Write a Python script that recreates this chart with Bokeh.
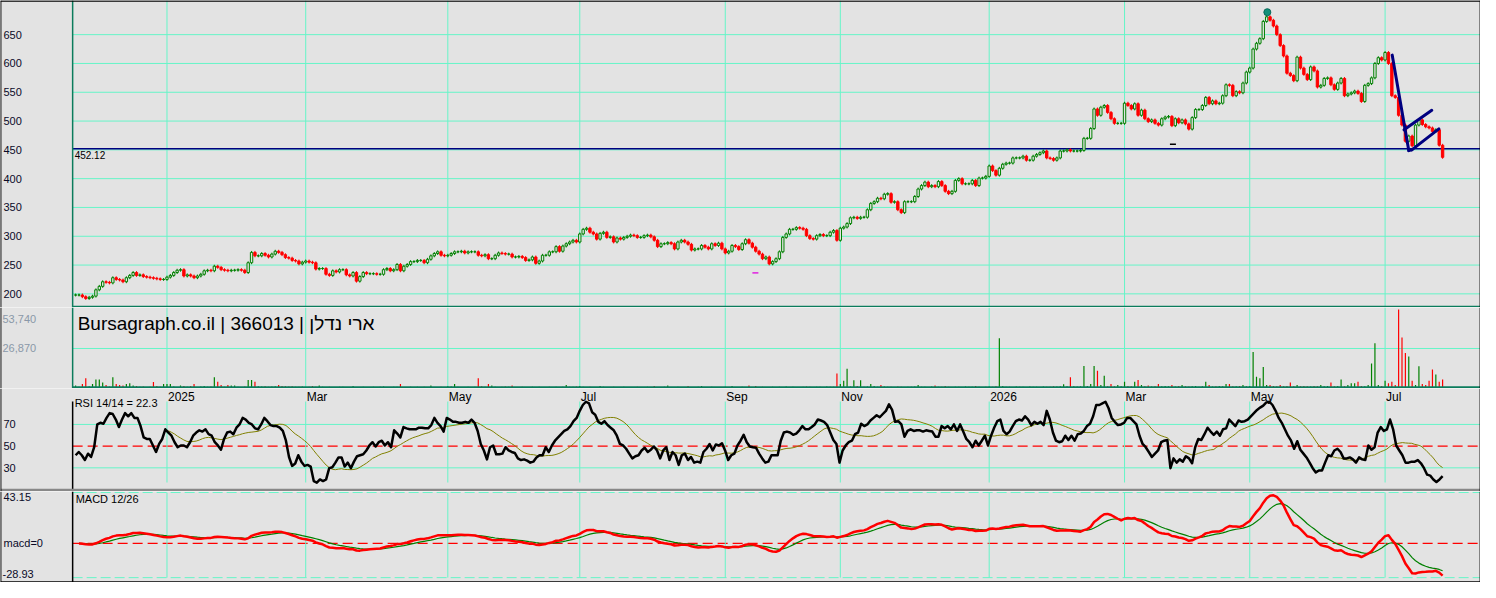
import numpy as np
import pandas as pd
from bokeh.plotting import figure
from bokeh.layouts import column
from bokeh.models import Range1d
from bokeh.core.properties import value
from bokeh.embed import file_html
from bokeh.resources import INLINE

# ---------------------------------------------------------------- data
TITLE = "Bursagraph.co.il | 366013 | ארי נדלן"

CLOSE_NOV_APR = [
    198, 198, 195, 192, 194, 196, 207, 213, 221, 220,
    219, 228, 225, 224, 221, 228, 232, 237, 232, 233,
    230, 229, 228, 227, 226, 225, 225, 229, 232, 237,
    241, 242, 231, 233, 231, 228, 231, 234, 240, 241,
    240, 248, 246, 242, 241, 240, 241, 241, 242, 241,
    237, 254, 272, 266, 266, 270, 267, 264, 269, 274,
    272, 268, 263, 262, 258, 257, 252, 255, 257, 255,
    254, 243, 244, 244, 234, 232, 240, 238, 242,
    242, 233, 231, 237, 222, 230, 237, 235, 235, 235,
    234, 234, 242, 244, 240, 242, 251, 240, 248, 251,
    256, 256, 258, 258, 254, 260, 266, 270, 273, 267,
    266, 267]
CLOSE_APR_SEP = [
    270, 273, 273, 274, 271, 273, 273, 273, 267,
    266, 268, 261, 261, 267, 271, 270, 269, 269, 264,
    264, 265, 263, 258, 259, 264, 253, 257, 267, 267,
    273, 273, 282, 274, 283, 287, 290, 293, 290, 304,
    312, 314, 307, 304, 295, 305, 307, 298, 299,
    290, 297, 295, 298, 300, 302, 301, 298, 298, 301,
    302, 299, 293, 282, 287, 287, 289, 287, 278, 290,
    293, 290, 286, 276, 278, 278, 284, 281, 278, 287,
    284, 288, 278, 271, 274, 284, 282, 277, 287, 294,
    288, 281, 274, 269, 261, 264, 252, 256, 261, 273,
    298, 304, 312, 312, 315, 314, 312, 301, 296]
CLOSE_OCT_FEB = [
    295, 301, 303, 301, 301, 307, 310, 293, 314, 316,
    322, 332, 333, 331, 333, 333, 346, 357, 360, 366,
    365, 373, 374, 359, 360, 346, 341, 360, 360, 360,
    369, 382, 388, 394, 386, 388, 386, 395, 388, 378,
    374, 378, 397, 400, 391, 391, 391, 397, 388,
    401, 401, 404, 422, 414, 406, 418, 425, 427, 427,
    436, 436, 436, 439, 432, 432, 439, 442, 445, 448,
    436, 435, 432, 436, 448, 448, 450, 448, 448, 448,
    449, 470, 470, 487, 521, 510, 524, 527, 515]
CLOSE_MAR_MAY = [
    504, 496, 496, 496, 531, 527, 521, 530, 510, 519,
    504, 499, 502, 496, 493, 504, 507, 508, 492, 504,
    497, 502, 495, 486, 506, 520, 520, 527, 541, 530,
    535, 530, 531, 544, 563, 562, 544, 551, 549, 566,
    585, 592, 625, 635, 643, 673, 681]
CLOSE_MAY_JUL = [
    675, 665, 650, 631, 613, 583, 579, 570, 611, 592,
    581, 572, 594, 587, 559, 562, 574, 575, 563,
    555, 566, 574, 544, 547, 549, 552, 548, 534,
    562, 565, 575, 600, 610, 606, 619, 600, 544, 541,
    510, 493, 465, 474, 457, 493, 502, 494, 490, 488,
    482, 485, 458, 437]

VOLUME = [
    1350, 600, 2500, 6300, 900, 2500, 5600, 5600, 3400, 1800, 700, 7000, 2500, 1800, 1350, 2500, 2900, 1350, 1100, 500,
    700, 400, 600, 3800, 1100, 500, 2500, 2500, 2500, 700, 400, 1350, 1100, 500, 1100, 2500, 400, 700, 1100, 500,
    700, 7000, 4000, 1800, 600, 1800, 1350, 1350, 500, 400, 700, 5200, 5200, 4000, 900, 700, 800, 600, 700, 900,
    1800, 1100, 800, 700, 900, 600, 500, 700, 400, 600, 1100, 500, 1350, 600, 400, 500, 300, 400, 600, 500,
    400, 300, 1100, 400, 300, 500, 400, 300, 600, 400, 500, 700, 300, 400, 500, 600, 2500, 400, 300, 500,
    400, 600, 300, 500, 400, 1350, 400, 300, 600, 400, 900, 700, 2500, 500, 400, 300, 600, 400, 500, 6300,
    800, 600, 2500, 1350, 500, 400, 600, 700, 500, 1350, 400, 300, 500, 400, 300, 600, 400, 500, 300, 400,
    500, 400, 600, 400, 500, 1800, 600, 500, 700, 1100, 600, 400, 500, 300, 400, 1100, 500, 400, 300, 500,
    400, 300, 500, 400, 300, 400, 500, 300, 400, 500, 400, 1100, 300, 400, 500, 1350, 400, 300, 500, 400,
    300, 1100, 400, 300, 500, 1100, 400, 300, 500, 400, 300, 400, 500, 300, 1100, 400, 300, 500, 400, 1350,
    400, 1100, 300, 500, 400, 300, 600, 400, 500, 300, 700, 400, 500, 300, 400, 600, 700, 500, 400, 600,
    500, 400, 700, 600, 500, 9700, 2500, 4700, 12900, 700, 5000, 1100, 5000, 600, 700, 2500, 1100, 600, 1800, 700,
    500, 600, 400, 700, 500, 400, 600, 500, 700, 1800, 500, 600, 400, 700, 1350, 500, 600, 1100, 500, 400,
    600, 500, 400, 700, 500, 600, 1100, 500, 400, 600, 700, 500, 900, 33900, 1100, 500, 600, 400, 700, 500,
    600, 400, 700, 500, 600, 400, 700, 500, 600, 800, 700, 900, 2250, 900, 7000, 800, 700, 900, 14900, 1100,
    2500, 14900, 11500, 1800, 8100, 900, 2500, 800, 1800, 900, 4000, 1100, 800, 4000, 5200, 1800, 900, 1350, 700, 900,
    2500, 900, 1100, 800, 1800, 700, 1100, 1800, 900, 700, 800, 1100, 600, 900, 4000, 1800, 700, 900, 1100, 800,
    2500, 2500, 900, 800, 1100, 1800, 900, 1100, 24400, 7400, 6300, 14200, 1800, 1800, 1100, 900, 1800, 800, 1100, 3400,
    900, 1800, 800, 1100, 900, 700, 1100, 900, 1800, 800, 1100, 3400, 900, 1100, 5600, 900, 1800, 2900, 2900, 4000,
    1100, 900, 1800, 16500, 30500, 1800, 1100, 4700, 2900, 4000, 1800, 53740, 34500, 23700, 21400, 4700, 1800, 14700, 2500, 1800,
    4700, 12400, 9000, 4000, 5600]

RSI_NOV_SEP = [
    41.6, 44.6, 41.6, 37.2, 43, 40, 49, 70, 71.5, 70.6,
    76, 80.4, 79.6, 74.5, 67.6, 74.5, 80.4, 77.5, 80.4, 76,
    76, 68.5, 58, 56.6, 56.6, 50.6, 44.6, 52, 56.6, 65.5,
    62.5, 59.6, 53.6, 49, 50.6, 50.6, 49, 53.6, 59.6, 62.5,
    64.6, 63.4, 65.5, 61, 59.6, 53.6, 50.6, 46.7, 56.6, 62.5,
    63.4, 61, 67, 70, 76, 74.5, 71.5, 70, 66.4, 65.5,
    70, 76, 73, 69.4, 68.5, 68.5, 67, 64, 55, 40,
    31.8, 34, 41.6, 35.7, 31.8, 32.7, 31.2, 17.8, 16.3, 19.3,
    17.8, 19.3, 29.7, 30.6, 34.8, 39.6, 39.6, 31.2, 34.8, 29.7,
    35.7, 40.7, 41.6, 42.5, 46, 50.6, 53.6, 49.7, 53.6, 55,
    50.6, 53.6, 49, 64.6, 61.6, 58, 67.6, 66.4, 65.5, 65.5,
    65.5, 67, 67, 66.4, 66.4, 69.4, 76, 71.5, 68.5, 63.4,
    76, 74.5, 72.4, 72.4, 71.5, 71.5, 72.4, 71.5, 74.5, 71.5,
    64, 52, 46, 37.8, 49, 50.6, 42.5, 42.5, 43.1, 49,
    46, 44.6, 43.7, 38.7, 37.2, 37.8, 36.6, 34.8, 35.7, 39.6,
    41.6, 41.6, 49, 44.6, 50.6, 55, 58, 61, 64, 65.5,
    68.5, 73, 76, 82.5, 87.9, 90.9, 89.4, 81.3, 79, 72.4,
    70.6, 73, 69.4, 67, 64.6, 59.6, 52, 50.6, 47.6, 43.1,
    38.7, 40.7, 41.6, 46, 48.5, 44.6, 46.7, 49.7, 46, 38.7,
    46, 49, 37.2, 44.6, 41.6, 32.7, 41.6, 43.1, 37.2, 40,
    34.8, 35.7, 34.8, 44.6, 47.6, 52, 46, 51.5, 50.6, 52.7,
    46, 37.2, 41.6, 43.1, 50.6, 55, 60.4, 53.6, 49.7, 49,
    48.5, 43.1, 38.7, 34.8, 35.7, 41.6]
RSI_OCT_JUL = [
    41.6, 41.6, 55, 62.5, 63.4, 62.5, 60.4, 61.6, 64.6, 68.5,
    65.5, 65.5, 67.6, 70, 74.5, 73.6, 72.4, 69.4, 62.5, 55.7,
    52, 34.8, 46, 50.6, 53.6, 55, 61, 62.5, 70.6, 68.5,
    70, 73.6, 76, 78.4, 76.6, 79.6, 82.5, 88.5, 83.4, 72.4,
    73, 70, 58.7, 64, 65.5, 64, 64.6, 64.6, 63.4, 64.6,
    64, 63.4, 58.7, 58.7, 68.5, 66.4, 68.5, 65.5, 70, 64,
    70, 63.4, 56.6, 53.6, 49, 55, 50.6, 55, 59.6, 50.6,
    59.6, 67, 73, 74.5, 64, 61, 63.4, 68.5, 73, 74.5,
    73.6, 77.5, 74.5, 69.4, 72.4, 70.6, 72.4, 69.4, 82.5, 74.5,
    62.5, 55, 53.6, 54.5, 59.6, 55.7, 59.6, 55, 61, 61.6,
    64, 68.5, 70.6, 77.5, 87.9, 87.9, 89.4, 90.9, 84.9, 76,
    72.4, 69.4, 70, 71.5, 76, 76, 73, 70, 59.6, 52,
    49, 44.6, 40, 43.1, 46, 53.6, 55, 55.7, 29.7, 38.7,
    34.8, 37.8, 35.7, 40.7, 38.7, 34.2, 49, 56.6, 55.7, 61,
    67, 63.4, 60.4, 63.4, 59.6, 65.5, 66.4, 74.5, 71.5, 68.5,
    73.6, 72.4, 73, 74.5, 77.5, 80.4, 83.4, 85.5, 87.3, 90.3,
    90.9, 87.9, 82.5, 76, 71.5, 65.5, 59.6, 55, 47.6, 54.5,
    46.7, 43.1, 39.6, 34.8, 29.7, 25.8, 27.6, 27.6, 34.8, 41.6,
    40.7, 46, 47.6, 44.6, 38.7, 38.7, 39.6, 37.8, 34.8, 39.6,
    37.8, 37.2, 50.6, 46.7, 49, 62.5, 67.6, 64, 65.5, 74.5,
    65.5, 50.6, 46, 41.6, 34.8, 34.8, 35.7, 35.7, 37.2, 34.2,
    29.7, 23.7, 22.8, 19.3, 16.9, 19.3, 22.3]

DATE_LABELS = ["2025", "Mar", "May", "Jul", "Sep", "Nov", "2026", "Mar", "May", "Jul"]
DATE_BARS = [27, 68, 110, 149, 192, 226, 270, 310, 347, 387]
PRICE_TICKS = [200, 250, 300, 350, 400, 450, 500, 550, 600, 650]
REF_LEVEL = 452.12
VOL_TICKS = [26870, 53740]
RSI_GRID = [30, 70]
RSI_MID = 50
MACD_MAX = 43.15
MACD_MIN = -28.93
PEAK_BAR, PEAK_PRICE = 352.2, 689.0
MARK_BARS = [200.9, 324.3]
MARK_PRICES = [236.4, 459.7]
FLAG_X0 = [389.1, 394.0, 394.9, 392.6]
FLAG_Y0 = [614.5, 448.7, 449.9, 484.8]
FLAG_X1 = [394.0, 394.9, 402.9, 400.8]
FLAG_Y1 = [448.7, 449.9, 486.5, 518.6]

# ---------------------------------------------------------------- layout / style
W = 1480
H_PRICE, H_VOL, H_RSI, H_MACD = 307, 81, 103, 91
X_START, X_END = -22.2, 415.2
AXIS_X = -0.88
PRICE_RANGE = (176.3, 709.3)
VOL_RANGE = (-672, 55083)
RSI_RANGE = (8.2, 103.1)
MACD_RANGE = (-33.03, 43.97)

BG = "#e3e3e3"
GRID = "#66f5c8"
AXG = "#0b7c5c"
UP = "#008000"
DOWN = "#ff0000"
NAVY = "#000080"
FONT = "Liberation Sans"
LBL = "#0a0a28"

# ---------------------------------------------------------------- derived series
close = np.array(CLOSE_NOV_APR + CLOSE_APR_SEP + CLOSE_OCT_FEB + CLOSE_MAR_MAY + CLOSE_MAY_JUL, dtype=float)
n = len(close)
bars = np.arange(n)
opn = np.r_[close[0], close[:-1]]
up = close >= opn
top = np.maximum(opn, close)
bot = np.minimum(opn, close)
WICK = 2.5

rsi = np.array(RSI_NOV_SEP + RSI_OCT_JUL)
rsi_x = np.linspace(0, n - 1, len(rsi))
rsi_ma = pd.Series(rsi).rolling(15).mean().to_numpy()
ma_ok = (rsi_x >= DATE_BARS[0]) & ~np.isnan(rsi_ma)

cs = pd.Series(close)
macd = (cs.ewm(span=12, adjust=False).mean() - cs.ewm(span=26, adjust=False).mean()).to_numpy()
signal = pd.Series(macd).ewm(span=9, adjust=False).mean().to_numpy()

xr = Range1d(X_START, X_END)


def make_fig(h, yr):
    p = figure(width=W, height=h, x_range=xr, y_range=Range1d(*yr),
               output_backend="svg", toolbar_location=None,
               x_axis_location=None, y_axis_location=None, min_border=0,
               background_fill_color=BG, border_fill_color=BG,
               outline_line_color=None)
    p.grid.visible = False
    return p


def dpx(h, yr, px):
    return px * (yr[1] - yr[0]) / h


def txt(p, x, y, t, size, color=LBL, align="left", baseline="middle", xo=0, yo=0):
    p.text(x=x, y=y, text=t, text_font=value(FONT), text_font_size=value(size),
           text_color=color, text_align=align, text_baseline=baseline,
           x_offset=xo, y_offset=yo)


def borders(p, yr, top_=False, bottom_=False, h=100):
    p.segment(x0=[X_START + 0.05, X_END - 0.05], y0=yr[0], x1=[X_START + 0.05, X_END - 0.05], y1=yr[1],
              line_color="black", line_width=1.5)
    if top_:
        y = yr[1] - dpx(h, yr, 0.5)
        p.segment(x0=X_START, y0=y, x1=X_END, y1=y, line_color="black", line_width=1.5)
    if bottom_:
        y = yr[0] + dpx(h, yr, 0.5)
        p.segment(x0=X_START, y0=y, x1=X_END, y1=y, line_color="black", line_width=1.5)


# ---------------------------------------------------------------- price panel
pp = make_fig(H_PRICE, PRICE_RANGE)
pp.segment(x0=AXIS_X, y0=PRICE_TICKS, x1=X_END, y1=PRICE_TICKS, line_color=GRID, line_width=1)
pp.segment(x0=DATE_BARS, y0=PRICE_RANGE[0], x1=DATE_BARS, y1=PRICE_RANGE[1], line_color=GRID, line_width=1)
pp.segment(x0=AXIS_X, y0=REF_LEVEL, x1=X_END, y1=REF_LEVEL, line_color=NAVY, line_width=1.5)

pp.segment(x0=bars, y0=bot - WICK, x1=bars, y1=top + WICK,
           line_color=np.where(up, UP, DOWN).tolist(), line_width=1)
pp.vbar(x=bars[up], top=top[up], bottom=bot[up], width=0.7,
        fill_color=BG, line_color=UP, line_width=1)
pp.vbar(x=bars[~up], top=top[~up], bottom=bot[~up], width=0.7,
        fill_color=DOWN, line_color=DOWN, line_width=1)

pp.segment(x0=FLAG_X0, y0=FLAG_Y0, x1=FLAG_X1, y1=FLAG_Y1, line_color=NAVY,
           line_width=3, line_cap="round")
pp.scatter(x=[PEAK_BAR], y=[PEAK_PRICE], marker="circle", size=7,
           fill_color="#12907a", line_color="#0a6a5a")
pp.scatter(x=MARK_BARS, y=MARK_PRICES, marker="dash", size=6,
           line_color=["#e020e0", "black"], line_width=1.5)

pp.segment(x0=AXIS_X, y0=PRICE_RANGE[0], x1=AXIS_X, y1=PRICE_RANGE[1], line_color=AXG, line_width=1.5)
ysep = PRICE_RANGE[0] + dpx(H_PRICE, PRICE_RANGE, 0.8)
pp.segment(x0=AXIS_X, y0=ysep, x1=X_END, y1=ysep, line_color=AXG, line_width=2)
borders(pp, PRICE_RANGE, top_=True, h=H_PRICE)

txt(pp, X_START, PRICE_TICKS, [str(t) for t in PRICE_TICKS], "11px", xo=3)
txt(pp, AXIS_X, [REF_LEVEL], [f"{REF_LEVEL:.2f}"], "10px", color="black", baseline="top", xo=2, yo=2)

# ---------------------------------------------------------------- volume panel
vp = make_fig(H_VOL, VOL_RANGE)
vp.segment(x0=AXIS_X, y0=VOL_TICKS[0], x1=X_END, y1=VOL_TICKS[0], line_color=GRID, line_width=1)
vp.segment(x0=DATE_BARS, y0=VOL_RANGE[0], x1=DATE_BARS, y1=VOL_RANGE[1], line_color=GRID, line_width=1)
vol = np.array(VOLUME, dtype=float)
vp.segment(x0=bars, y0=0, x1=bars, y1=vol, line_color=np.where(up, UP, DOWN).tolist(), line_width=1.2)
vp.segment(x0=AXIS_X, y0=0, x1=X_END, y1=0, line_color=AXG, line_width=2.5)
vp.segment(x0=AXIS_X, y0=VOL_RANGE[0], x1=AXIS_X, y1=VOL_RANGE[1], line_color=AXG, line_width=1.5)
borders(vp, VOL_RANGE, h=H_VOL)
txt(vp, X_START, [VOL_TICKS[0]], [f"{VOL_TICKS[0]:,}"], "11px", color="#8a98a8", xo=2)
txt(vp, X_START, [VOL_TICKS[1]], [f"{VOL_TICKS[1]:,}"], "11px", color="#8a98a8", xo=2, yo=10)
txt(vp, AXIS_X, [VOL_RANGE[1]], [TITLE], "19px", color="black", baseline="top", xo=5, yo=5)

# ---------------------------------------------------------------- RSI panel
rp = make_fig(H_RSI, RSI_RANGE)
rp.segment(x0=AXIS_X, y0=RSI_GRID, x1=X_END, y1=RSI_GRID, line_color=GRID, line_width=1)
rp.segment(x0=AXIS_X, y0=RSI_MID, x1=X_END, y1=RSI_MID, line_color=DOWN, line_width=1.3, line_dash="10 5")
rtop = RSI_RANGE[1] - dpx(H_RSI, RSI_RANGE, 13)
rbot = RSI_RANGE[0] + dpx(H_RSI, RSI_RANGE, 9)
rp.segment(x0=DATE_BARS, y0=rbot, x1=DATE_BARS, y1=rtop, line_color=GRID, line_width=1)
rp.line(x=rsi_x[ma_ok], y=rsi_ma[ma_ok], line_color="#808000", line_width=1)
rp.line(x=rsi_x, y=rsi, line_color="black", line_width=2.5, line_join="round")
rp.segment(x0=AXIS_X, y0=RSI_RANGE[0], x1=AXIS_X, y1=rtop, line_color="black", line_width=1.5)
yg = RSI_RANGE[0] + dpx(H_RSI, RSI_RANGE, 1.2)
rp.segment(x0=X_START, y0=yg, x1=X_END, y1=yg, line_color="#888888", line_width=3)
borders(rp, RSI_RANGE, h=H_RSI)
txt(rp, X_START, [70, 50, 30], ["70", "50", "30"], "11px", xo=3)
txt(rp, DATE_BARS, RSI_RANGE[1], DATE_LABELS, "12px", color="black", xo=1, yo=8)
txt(rp, AXIS_X, [RSI_RANGE[1]], [f"RSI 14/14 = {rsi[-1]}"], "11px", color="black", xo=2, yo=14)

# ---------------------------------------------------------------- MACD panel
mp = make_fig(H_MACD, MACD_RANGE)
mp.segment(x0=AXIS_X, y0=[MACD_MAX, MACD_MIN], x1=X_END, y1=[MACD_MAX, MACD_MIN],
           line_color=GRID, line_width=1, line_dash="10 4")
mp.segment(x0=AXIS_X, y0=0, x1=X_END, y1=0, line_color=DOWN, line_width=1.3, line_dash="10 5")
mp.segment(x0=DATE_BARS, y0=MACD_MIN, x1=DATE_BARS, y1=MACD_MAX, line_color=GRID, line_width=1)
mp.line(x=bars[1:], y=signal[1:], line_color=UP, line_width=1.2)
mp.line(x=bars[1:], y=macd[1:], line_color=DOWN, line_width=2.5, line_join="round")
mp.segment(x0=AXIS_X, y0=MACD_RANGE[0], x1=AXIS_X, y1=MACD_RANGE[1], line_color="black", line_width=1.5)
borders(mp, MACD_RANGE, bottom_=True, h=H_MACD)
txt(mp, X_START, [MACD_MAX], [f"{MACD_MAX:.2f}"], "11px", baseline="top", xo=3, yo=1)
txt(mp, X_START, [0], ["macd=0"], "11px", baseline="alphabetic", xo=3)
txt(mp, X_START, [MACD_MIN], [f"{MACD_MIN:.2f}"], "11px", baseline="middle", xo=2, yo=-4)
txt(mp, AXIS_X, [MACD_RANGE[1]], ["MACD 12/26"], "11px", color="black", xo=3, yo=7)

layout = column(pp, vp, rp, mp, spacing=0)
open("out.html", "w").write(file_html(layout, INLINE))
